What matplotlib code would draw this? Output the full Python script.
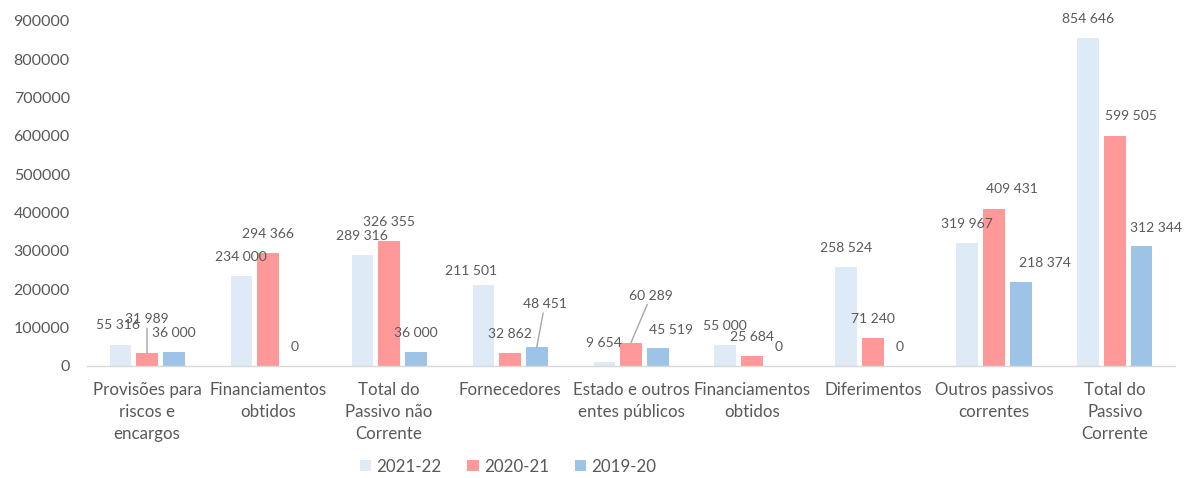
import matplotlib
matplotlib.use('Agg')
import matplotlib.pyplot as plt
import numpy as np

# categories and series
categories = ['Provisões para\nriscos e\nencargos', 'Financiamentos\nobtidos',
              'Total do\nPassivo não\nCorrente', 'Fornecedores',
              'Estado e outros\nentes públicos', 'Financiamentos\nobtidos',
              'Diferimentos', 'Outros passivos\ncorrentes',
              'Total do\nPassivo\nCorrente']
series_names = ['2021-22', '2020-21', '2019-20']
vals_2122 = [55316, 234000, 289316, 211501, 9654, 55000, 258524, 319967, 854646]
vals_2021 = [31989, 294366, 326355, 32862, 60289, 25684, 71240, 409431, 599505]
vals_1920 = [36000, 0, 36000, 48451, 45519, 0, 0, 218374, 312344]
y_ticks = [0, 100000, 200000, 300000, 400000, 500000, 600000, 700000, 800000, 900000]

colors = ['#DEEAF6', '#FF9999', '#9DC3E6']
TXT = '#595959'

# label offsets in pixels (dx, dy) where they differ from the default
DEFAULT_OFF = (0, 19)
label_off = {
    (0, 0): (-2, 20), (1, 0): (0, 34),
    (0, 3): (-12, 14), (2, 3): (8, 43),
    (1, 4): (20, 47), (2, 4): (13, 18),
    (1, 7): (18, 20), (2, 7): (24, 19),
    (1, 8): (16, 20), (2, 8): (14, 18),
}
leaders = {(1, 0), (2, 3), (1, 4)}

plt.rcParams['font.family'] = ['Lato', 'DejaVu Sans']

fig = plt.figure(figsize=(11.87, 4.78), dpi=100)
ax = fig.add_axes([0.0729, 0.2349, 0.9174, 0.7218])

x = np.arange(len(categories))
width = 0.178
step = 0.221
all_vals = [vals_2122, vals_2021, vals_1920]
for si, vals in enumerate(all_vals):
    xs = x + (si - 1) * step
    ax.bar(xs, vals, width, color=colors[si], label=series_names[si], zorder=2)
    for ci, v in enumerate(vals):
        dx, dy = label_off.get((si, ci), DEFAULT_OFF)
        txt = '{:,}'.format(v).replace(',', ' ')
        kw = {}
        if (si, ci) in leaders:
            kw['arrowprops'] = dict(arrowstyle='-', color='#A6A6A6', lw=1,
                                    shrinkA=0, shrinkB=0)
        ax.annotate(txt, xy=(xs[ci], v), xytext=(dx, dy),
                    textcoords='offset pixels', ha='center', va='center',
                    fontsize=10, color=TXT, zorder=3, **kw)

ax.set_xlim(-0.5, len(categories) - 0.5)
ax.set_ylim(0, 900000)
ax.set_yticks(y_ticks)
ax.set_yticklabels([str(t) for t in y_ticks])
ax.set_xticks(x)
ax.set_xticklabels(categories, linespacing=1.45)

for s in ['top', 'right', 'left']:
    ax.spines[s].set_visible(False)
ax.spines['bottom'].set_color('#D9D9D9')
ax.spines['bottom'].set_linewidth(1)
ax.tick_params(axis='y', length=0, pad=12, labelsize=11.5, labelcolor=TXT)
ax.tick_params(axis='x', length=0, pad=12, labelsize=12.2, labelcolor=TXT)

fig.legend(loc='center', bbox_to_anchor=(0.428, 0.024), ncol=3, frameon=False,
           fontsize=12.2, labelcolor=TXT, handlelength=0.66, handleheight=0.66,
           handletextpad=0.3, columnspacing=1.55)

fig.savefig('out.png', dpi=100)
